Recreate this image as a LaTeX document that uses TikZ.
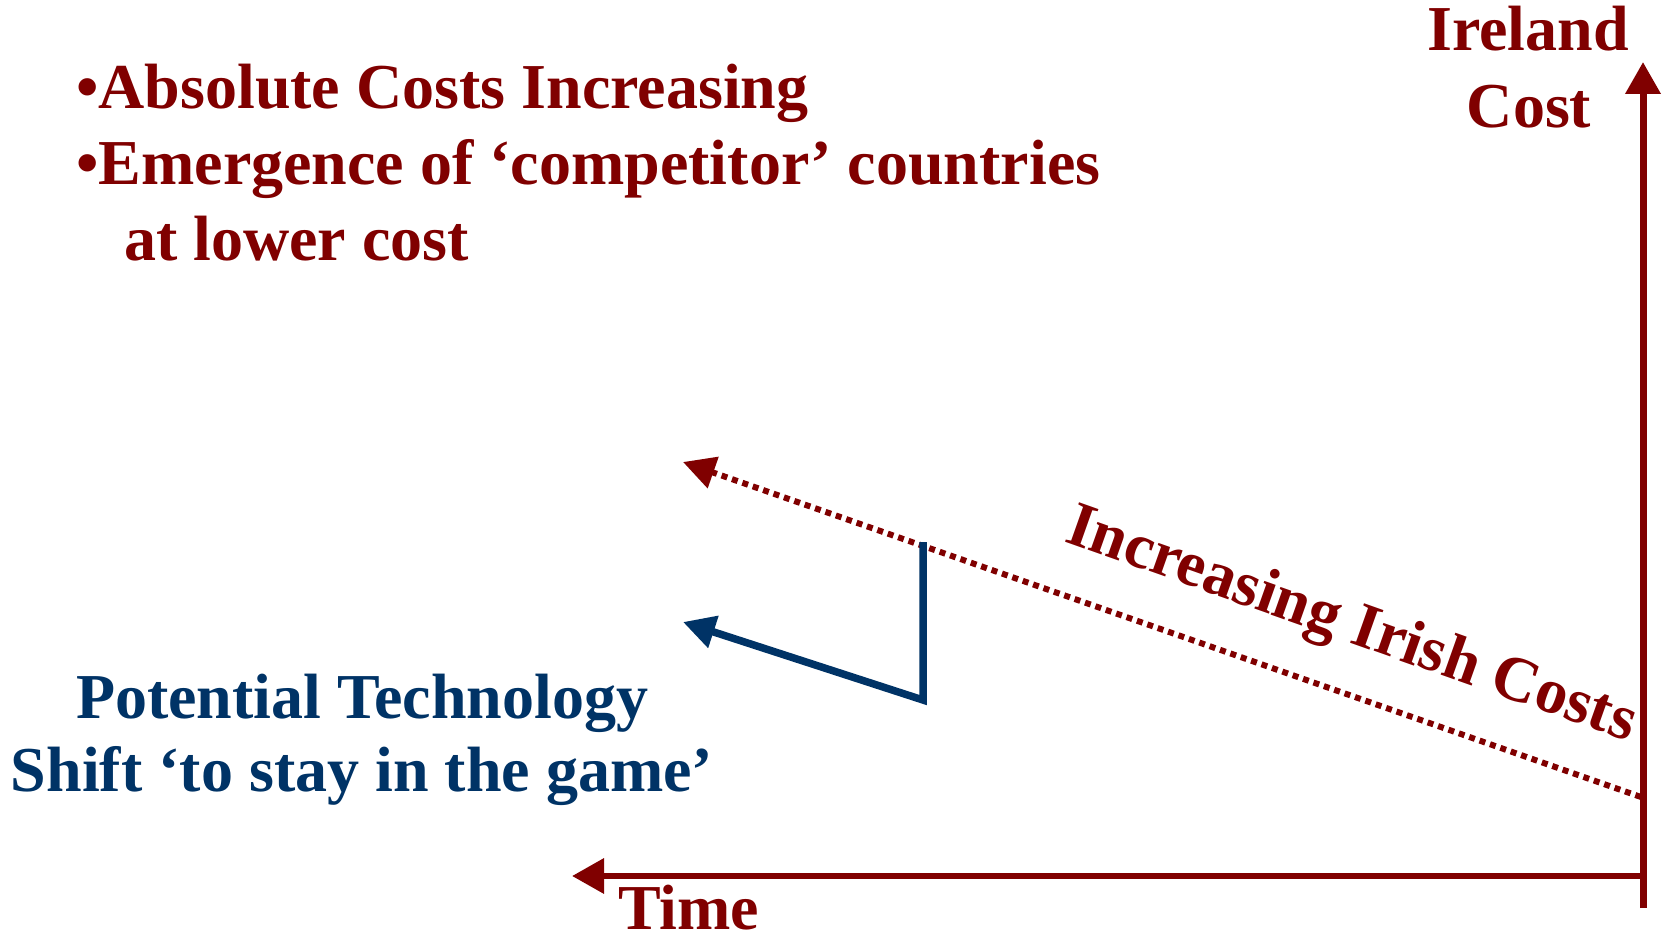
\documentclass[tikz,border=0pt]{standalone}
\usepackage{fontspec}
\setmainfont{Liberation Serif}
\usetikzlibrary{arrows.meta}
\definecolor{dred}{RGB}{128,0,0}
\definecolor{dblue}{RGB}{0,51,102}
\begin{document}
\begin{tikzpicture}[x=1pt,y=-1pt,
  lbl/.style={inner sep=0pt,font=\fontsize{64}{74}\selectfont\bfseries},
  redlbl/.style={lbl,text=dred},
  bluelbl/.style={lbl,text=dblue},
  axisline/.style={draw=dred,line width=7pt,-{Triangle[length=32pt,width=34pt]}},
  trendline/.style={draw=dred,line width=6pt,dash pattern=on 6pt off 5pt,-{Triangle[length=32pt,width=32pt]}},
  techshift/.style={draw=dblue,line width=7.5pt,-{Triangle[length=32pt,width=32pt]}}]
\useasboundingbox (0,0) rectangle (1666,934);
% axes
\coordinate (origin) at (1643,876);
\coordinate (vbot) at (1643,908);
\coordinate (vtop) at (1643,62);
\coordinate (htip) at (572,876);
\draw[axisline] (vbot) -- (vtop);
\draw[axisline,line width=6.5pt] (origin) -- (htip);
% dotted trend
\coordinate (tstart) at (1641,797);
\coordinate (ttip) at (683,462);
\draw[trendline] (tstart) -- (ttip);
% technology shift
\coordinate (s1) at (923,542);
\coordinate (s2) at (923,700);
\coordinate (s3) at (683,622);
\draw[techshift,line join=miter] (s1) -- (s2) -- (s3);
% labels
\node[redlbl,anchor=base] (irl1) at (1528,51) {Ireland};
\node[redlbl,anchor=base] (irl2) at (1529,127) {Cost};
\node[redlbl,anchor=base west] (time) at (618,929) {Time};
\node[redlbl,anchor=base west] (bul1) at (76,108) {•Absolute Costs Increasing};
\node[redlbl,anchor=base west] (bul2) at (76,184) {•Emergence of ‘competitor’ countries};
\node[redlbl,anchor=base west] (bul3) at (124,260) {at lower cost};
\node[bluelbl,anchor=base] (pt1) at (362,718) {Potential Technology};
\node[bluelbl,anchor=base] (pt2) at (362,791) {Shift ‘to stay in the game’};
\node[redlbl,rotate=-19.5] (inc) at (1351,627) {Increasing Irish Costs};
\end{tikzpicture}
\end{document}
